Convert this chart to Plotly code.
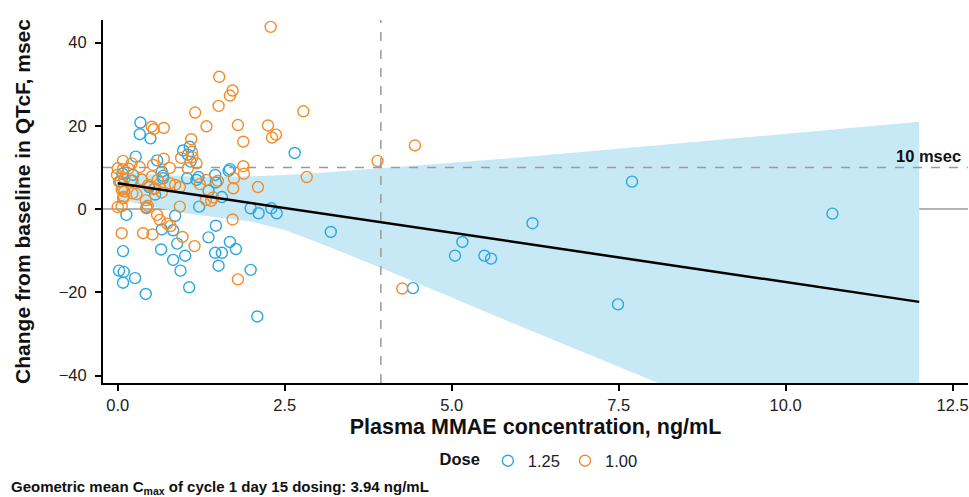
import plotly.graph_objects as go

# ---- data ----
blue_x = [0.34, 0.33, 0.49, 2.65, 1.08, 0.98, 1.05, 1.09, 0.27, 0.59, 0.66, 0.68, 1.04, 1.18, 1.21,
          1.46, 1.66, 1.68, 1.36, 1.56, 1.22, 0.04, 0.47, 0.13, 0.86, 1.99, 2.11, 2.30, 2.38, 0.43,
          0.66, 0.83, 0.89, 1.36, 1.47, 1.68, 1.77, 1.46, 1.56, 1.51, 0.08, 0.65, 0.83, 1.01, 0.94,
          0.02, 0.09, 0.08, 0.26, 0.42, 1.07, 1.99, 2.09, 3.19, 5.16, 5.05, 5.49, 5.59, 4.42, 6.21,
          7.70, 7.49, 10.70, 0.22, 0.68, 0.56, 0.07, 0.23, 1.47]
blue_y = [20.8, 18.0, 17.0, 13.5, 15.0, 14.1, 13.1, 11.4, 12.6, 11.7, 9.0, 8.0, 7.4, 7.0, 7.7,
          8.2, 9.2, 9.6, 4.4, 2.9, 0.6, 6.6, 5.3, -1.4, -1.6, 0.2, -1.0, 0.2, -1.0, 0.4,
          -4.9, -5.1, -8.3, -6.8, -4.0, -7.9, -9.6, -10.5, -10.5, -13.6, -10.1, -9.7, -12.2, -11.2, -14.8,
          -14.8, -15.1, -17.7, -16.6, -20.4, -18.8, -14.6, -25.8, -5.5, -7.9, -11.2, -11.2, -11.9, -19.0, -3.4,
          6.6, -22.9, -1.1, 6.8, 7.4, 3.5, 8.5, 8.2, 6.4]

orange_x = [2.29, 1.52, 1.72, 1.68, 1.51, 1.16, 2.78, 1.33, 1.80, 1.88, 2.25, 2.37, 2.31, 0.51, 0.54,
            0.69, 1.10, 2.83, 3.89, 4.45, 4.26, 1.11, 1.12, 0.95, 1.18, 1.05, 0.08, 0.00, -0.01, 0.21,
            0.16, 0.33, 0.69, 0.53, 0.78, 0.36, 0.51, 0.60, 0.54, 1.33, 1.50, 1.74, 1.88, 1.89, 2.10,
            1.32, 1.40, 1.43, 0.93, 0.08, 0.00, 0.06, 0.28, 0.42, 0.45, 0.43, 0.59, 0.63, 0.74, 0.79,
            0.06, 0.38, 0.52, 0.97, 1.15, 1.72, 1.80, 0.10, 0.20, 0.06, 0.10, 0.46, 0.56, 0.08, 0.22,
            0.09, 0.78, 0.86, 0.93, 1.73, 0.08, 0.02, 0.66, 1.23]
orange_y = [43.8, 31.8, 28.5, 27.3, 24.8, 23.2, 23.5, 19.9, 20.2, 16.2, 20.1, 17.9, 17.2, 19.8, 19.2,
            19.5, 16.8, 7.7, 11.6, 15.3, -19.1, 13.8, 12.5, 12.3, 11.0, 9.8, 11.6, 9.8, 8.2, 11.0,
            9.7, 10.1, 12.1, 10.6, 9.9, 7.1, 7.8, 7.0, 4.8, 7.0, 6.8, 7.4, 10.3, 8.5, 5.3,
            2.2, 2.0, 2.8, 0.6, 4.9, 0.5, 0.7, 3.6, 2.1, 0.8, 0.2, -1.4, -2.6, -3.5, -4.1,
            -5.8, -5.8, -6.1, -6.7, -8.9, -2.5, -16.9, 7.3, 6.8, 4.6, 4.2, 5.8, 5.0, 2.6, 3.8,
            3.0, 6.2, 5.8, 5.3, 5.0, 9.6, 6.6, 4.0, 6.0]

fit_x = [0, 12]
fit_y = [6.2, -22.3]

band_x = [0, 0.5, 1, 1.5, 2, 2.5, 3, 4, 5, 6, 8, 10, 12]
band_upper = [9.2, 8.4, 7.9, 7.8, 7.9, 8.2, 8.7, 9.9, 11.1, 12.4, 15.2, 18.1, 21.0]
band_lower = [2.3, 0.6, -1.0, -2.0, -3.0, -5.0, -8.0, -14.5, -21.3, -28.0, -41.2, -54.5, -67.8]

ref_y_zero = 0
ref_y_threshold = 10
ref_x_cmax = 3.94

x_ticks = [0, 2.5, 5, 7.5, 10, 12.5]
y_ticks = [-40, -20, 0, 20, 40]

BLUE = "#29a8e0"
ORANGE = "#f28c28"
BAND = "#c7e9f6"
FONT = "Liberation Sans, Arial, sans-serif"

# plot-area geometry in pixels
L, R, T, B = 103, 1, 20, 114
W, H = 969, 497
PW, PH = W - L - R, H - T - B

fig = go.Figure()

# confidence band
fig.add_trace(go.Scatter(x=band_x, y=band_upper, mode="lines", line=dict(width=0),
                         showlegend=False, hoverinfo="skip"))
fig.add_trace(go.Scatter(x=band_x, y=band_lower, mode="lines", line=dict(width=0),
                         fill="tonexty", fillcolor=BAND, showlegend=False, hoverinfo="skip"))

fig.add_trace(go.Scatter(x=blue_x, y=blue_y, mode="markers", name="1.25",
                         marker=dict(symbol="circle-open", size=11, color=BLUE, line=dict(width=1.4, color=BLUE))))
fig.add_trace(go.Scatter(x=orange_x, y=orange_y, mode="markers", name="1.00",
                         marker=dict(symbol="circle-open", size=11, color=ORANGE, line=dict(width=1.4, color=ORANGE))))

fig.add_trace(go.Scatter(x=fit_x, y=fit_y, mode="lines", line=dict(color="black", width=2.5),
                         showlegend=False, hoverinfo="skip"))

# reference lines
fig.add_shape(type="line", xref="paper", x0=0, x1=1, yref="y", y0=ref_y_zero, y1=ref_y_zero,
              line=dict(color="#9a9a9a", width=1.5), layer="below")
fig.add_shape(type="line", xref="paper", x0=0, x1=1, yref="y", y0=ref_y_threshold, y1=ref_y_threshold,
              line=dict(color="#9a9a9a", width=1.5, dash="dash"))
fig.add_shape(type="line", xref="x", x0=ref_x_cmax, x1=ref_x_cmax, yref="paper", y0=0, y1=1,
              line=dict(color="#9a9a9a", width=1.5, dash="dash"))

fig.add_annotation(x=(963 - L) / PW, y=ref_y_threshold, xref="paper", yref="y", text="<b>10 msec</b>",
                   showarrow=False, xanchor="right", yanchor="bottom", yshift=0,
                   font=dict(size=16.5, color="#111111", family=FONT))

fig.add_annotation(xref="paper", yref="paper", x=(9 - L) / PW, y=(PH + T - 487) / PH,
                   xanchor="left", yanchor="middle", showarrow=False,
                   text="<b>Geometric mean C<sub>max</sub> of cycle 1 day 15 dosing: 3.94 ng/mL</b>",
                   font=dict(size=15, color="#111111", family=FONT))

fig.update_layout(
    width=W, height=H,
    margin=dict(l=L, r=R, t=T, b=B, autoexpand=False),
    paper_bgcolor="white", plot_bgcolor="white",
    font=dict(family=FONT, color="#111111"),
    showlegend=True,
    legend=dict(orientation="h", traceorder="normal",
                x=(540 - L) / PW, xanchor="center", y=(PH + T - 461) / PH, yanchor="middle",
                title=dict(text="<b>Dose</b>", font=dict(size=16.5, color="#111111"), side="left"),
                font=dict(size=16.5, color="#222222"), itemwidth=30,
                bgcolor="rgba(0,0,0,0)"),
    xaxis=dict(range=[-0.22, 12.73], tickvals=x_ticks, tickformat=".1f", automargin=False,
               showgrid=False, zeroline=False, showline=True, linecolor="black", linewidth=2,
               ticks="outside", ticklen=6, tickwidth=1.5, tickcolor="black",
               tickfont=dict(size=16.5, color="#222222"),
               title=dict(text="<b>Plasma MMAE concentration, ng/mL</b>", font=dict(size=21.5, color="#111111"),
                          standoff=6)),
    yaxis=dict(range=[-41.8, 45.45], tickvals=y_ticks, automargin=False,
               showgrid=False, zeroline=False, showline=True, linecolor="black", linewidth=2,
               ticks="outside", ticklen=6, tickwidth=1.5, tickcolor="black", ticklabelstandoff=5,
               tickfont=dict(size=16.5, color="#222222"),
               title=dict(text="<b>Change from baseline in QTcF, msec</b>", font=dict(size=21, color="#111111"),
                          standoff=22)),
)

fig.write_html("out.html", config={"displayModeBar": False},
               post_script="document.body.style.margin='0px';")
